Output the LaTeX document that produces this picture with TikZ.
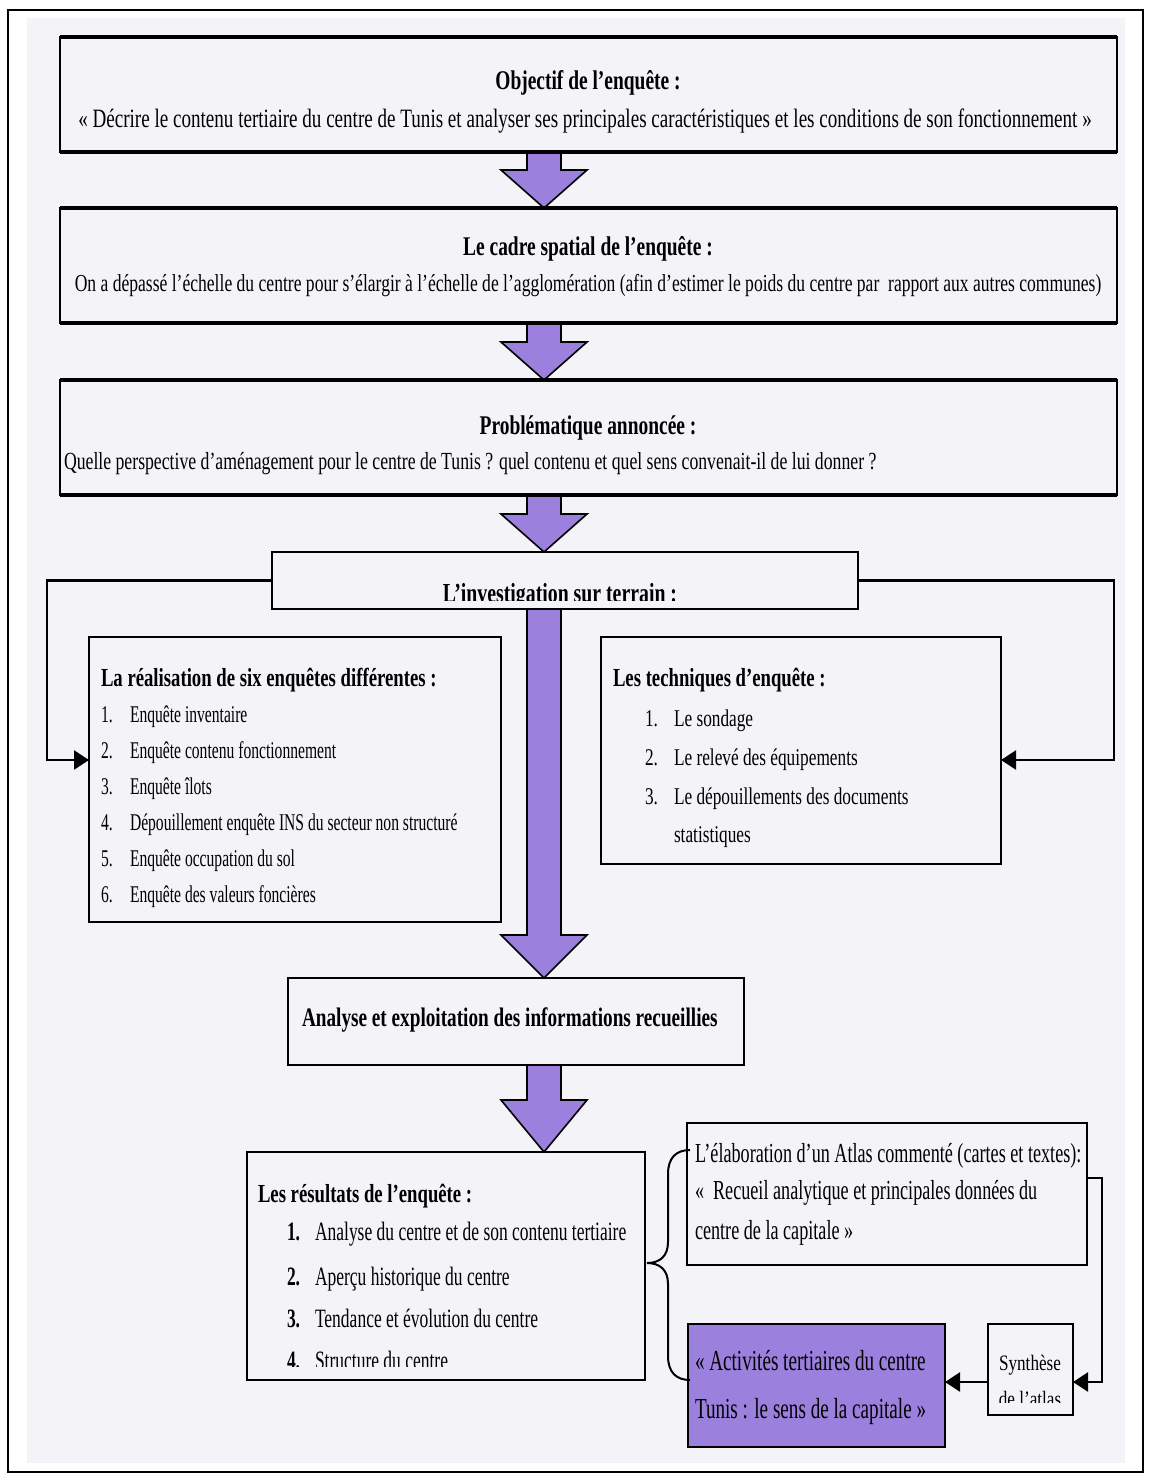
\documentclass[tikz,border=0pt]{standalone}
\usepackage{fontspec}
\setmainfont{Liberation Serif}
\newfontfamily\fA[FakeStretch=0.72]{Liberation Serif}
\newfontfamily\fC[FakeStretch=0.66]{Liberation Serif}
\newfontfamily\fD[FakeStretch=0.78]{Liberation Serif}
\newfontfamily\fE[FakeStretch=0.65]{Liberation Serif}
\usetikzlibrary{arrows.meta,calc}
\definecolor{pur}{RGB}{155,128,222}
\definecolor{bg}{RGB}{244,243,247}
\newcommand{\fsz}[1]{\fontsize{#1}{#1}\selectfont}
\newcommand{\parrowx}[5]{% cx, ytop, yhead, ytip
  \filldraw[parr] (#1-17,#2) -- (#1-17,#3) -- (#1-43,#3) -- (#1,#4) -- (#1+43,#3) -- (#1+17,#3) -- (#1+17,#2) -- cycle;}
\begin{document}
\begin{tikzpicture}[x=1pt,y=-1pt,
  box/.style={draw=black,line width=2.2pt,rectangle,inner sep=0pt,outer sep=0pt,anchor=north west},
  conn/.style={draw=black,line width=2.4pt},
  tipr/.style={-{Triangle[length=15pt,width=19pt]}},
  txt/.style={inner sep=0pt,outer sep=0pt,anchor=base west},
  ctxt/.style={inner sep=0pt,outer sep=0pt,anchor=base},
  parr/.style={fill=pur,draw=black,line width=1.6pt,line join=miter},
  thickedge/.style={line width=4pt}
]
\useasboundingbox (0,0) rectangle (1151,1477);
\fill[white] (0,0) rectangle (1151,1477);
\fill[bg] (27,18) rectangle (1125,1463);
\draw[line width=2pt] (8,10) rectangle (1143,1472);

% purple block arrows
\parrowx{544}{152}{170}{208}{}
\parrowx{544}{323}{342}{380}{}
\parrowx{544}{495}{514}{552}{}
\parrowx{544}{609}{935}{978}{}
\parrowx{544}{1065}{1100}{1152}{}

% boxes
\node[box,minimum width=1057pt,minimum height=115pt] (b1) at (60,37) {};
\node[box,minimum width=1057pt,minimum height=115pt] (b2) at (60,208) {};
\node[box,minimum width=1057pt,minimum height=115pt] (b3) at (60,380) {};
\foreach \b in {b1,b2,b3}{
  \draw[thickedge] (\b.north west) -- (\b.north east);
  \draw[thickedge] (\b.south west) -- (\b.south east);
}
\node[box,minimum width=586pt,minimum height=57pt] (b4) at (272,552) {};
\node[box,minimum width=412pt,minimum height=285pt] (b5) at (89,637) {};
\node[box,minimum width=400pt,minimum height=227pt] (b6) at (601,637) {};
\node[box,minimum width=456pt,minimum height=87pt] (b7) at (288,978) {};
\node[box,minimum width=398pt,minimum height=228pt] (b8) at (247,1152) {};
\node[box,minimum width=400pt,minimum height=142pt] (b9) at (687,1123) {};
\node[box,fill=pur,minimum width=257pt,minimum height=123pt] (b10) at (688,1324) {};
\node[box,minimum width=85pt,minimum height=91pt] (b11) at (988,1324) {};

% connectors
\coordinate (cL) at (47,760);
\coordinate (cR) at (1114,760);
\coordinate (cS) at (1102,1382);
\draw[conn,tipr] (b4.west) -| (cL) -- (cL -| b5.west);
\draw[conn,tipr] (b4.east) -| (cR) -- (cR -| b6.east);
\draw[conn,tipr] ($(b9.north east)+(0,55)$) -| (cS) -- (cS -| b11.east);
\draw[conn,tipr] (b11.west |- cS) -- (b10.east |- cS);

% brace
\draw[line width=2pt] (690,1150) .. controls (676,1150) and (668,1158) .. (668,1174)
  -- (668,1242) .. controls (668,1256) and (660,1263) .. (647,1263)
  .. controls (660,1263) and (668,1270) .. (668,1284)
  -- (668,1356) .. controls (668,1372) and (676,1380) .. (690,1380);

% texts
\node[ctxt] (t1a) at (588,90) {\fA\bfseries\fsz{27}Objectif de l’enquête :};
\node[ctxt] (t1b) at (585,128) {\fA\fsz{26.5}« Décrire le contenu tertiaire du centre de Tunis et analyser ses principales caractéristiques et les conditions de son fonctionnement »};
\node[ctxt] (t2a) at (588,255) {\fA\bfseries\fsz{27}Le cadre spatial de l’enquête :};
\node[ctxt] (t2b) at (588,291) {\fA\fsz{24.4}On a dépassé l’échelle du centre pour s’élargir à l’échelle de l’agglomération (afin d’estimer le poids du centre par\ \ rapport aux autres communes)};
\node[ctxt] (t3a) at (588,434) {\fA\bfseries\fsz{27}Problématique annoncée :};
\node[txt] (t3b) at (64,469) {\fA\fsz{24.6}Quelle perspective d’aménagement pour le centre de Tunis ? quel contenu et quel sens convenait-il de lui donner ?};

\begin{scope}
\clip (b4.north west) rectangle ([yshift=9pt]b4.south east);
\node[ctxt] (t4) at (560,602) {\fA\bfseries\fsz{27.5}L’investigation sur terrain :};
\end{scope}

\node[txt] (t5) at (101,686) {\fA\bfseries\fsz{26}La réalisation de six enquêtes différentes :};
\foreach \n/\y/\t in {1/722/Enquête inventaire,2/758/Enquête contenu fonctionnement,3/794/Enquête îlots,4/830/Dépouillement enquête INS du secteur non structuré,5/866/Enquête occupation du sol,6/902/Enquête des valeurs foncières}{
  \node[txt] (n5\n) at (101,\y) {\fE\fsz{24}\n.};
  \node[txt] (i5\n) at (130,\y) {\fE\fsz{24}\t};
}

\node[txt] (t6) at (613,686) {\fA\bfseries\fsz{26}Les techniques d’enquête :};
\foreach \n/\y/\t in {1/726/Le sondage,2/765/Le relevé des équipements,3/804/Le dépouillements des documents}{
  \node[txt] (n6\n) at (645,\y) {\fA\fsz{24}\n.};
  \node[txt] (i6\n) at (674,\y) {\fA\fsz{24}\t};
}
\node[txt] (i64) at (674,842) {\fA\fsz{24}statistiques};

\node[txt] (t7) at (302,1026) {\fA\bfseries\fsz{26.7}Analyse et exploitation des informations recueillies};

\node[txt] (t8) at (258,1202) {\fA\bfseries\fsz{26}Les résultats de l’enquête :};
\foreach \n/\y/\t in {1/1240/Analyse du centre et de son contenu tertiaire,2/1285/Aperçu historique du centre,3/1327/Tendance et évolution du centre}{
  \node[txt] (n8\n) at (287,\y) {\fC\bfseries\fsz{26.5}\n.};
  \node[txt] (i8\n) at (315,\y) {\fC\fsz{26.5}\t};
}
\begin{scope}
\clip (b8.north west) rectangle ([yshift=14pt]b8.south east);
\node[txt] (n84) at (287,1369) {\fC\bfseries\fsz{26.5}4.};
\node[txt] (i84) at (315,1369) {\fC\fsz{26.5}Structure du centre};
\end{scope}

\node[txt] (t9a) at (695,1162) {\fC\fsz{27.5}L’élaboration d’un Atlas commenté (cartes et textes):};
\node[txt] (t9b) at (695,1199) {\fC\fsz{27.5}«\ \ Recueil analytique et principales données du};
\node[txt] (t9c) at (695,1239) {\fC\fsz{27.5}centre de la capitale »};

\node[txt] (t10a) at (695,1370) {\fC\fsz{29}« Activités tertiaires du centre};
\node[txt] (t10b) at (695,1418) {\fC\fsz{29}Tunis : le sens de la capitale »};

\node[ctxt] (t11a) at (1030,1370) {\fD\fsz{22}Synthèse};
\begin{scope}
\clip (b11.north west) rectangle ([yshift=13pt]b11.south east);
\node[ctxt] (t11b) at (1030,1406) {\fD\fsz{22}de l’atlas};
\end{scope}
\end{tikzpicture}
\end{document}
